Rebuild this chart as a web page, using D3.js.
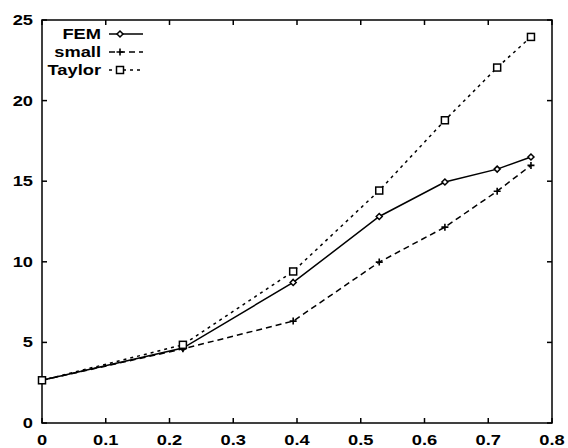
<!DOCTYPE html>
<html>
<head>
<meta charset="utf-8">
<script src="https://cdn.jsdelivr.net/npm/d3@7"></script>
<style>
  body { margin: 0; background: #fff; }
  text { font-family: "Liberation Sans", Arial, sans-serif; font-weight: bold; fill: #000; }
</style>
</head>
<body>
<div id="chart"></div>
<script>
// Data
const xs = [0, 0.221, 0.394, 0.529, 0.632, 0.714, 0.767];
const femValues = [2.65, 4.65, 8.72, 12.81, 14.95, 15.75, 16.5];
const smallValues = [2.65, 4.6, 6.32, 9.98, 12.15, 14.38, 15.98];
const taylorValues = [2.65, 4.85, 9.4, 14.42, 18.78, 22.05, 23.95];
const seriesNames = ["FEM", "small", "Taylor"];
const xTicks = [0, 0.1, 0.2, 0.3, 0.4, 0.5, 0.6, 0.7, 0.8];
const yTicks = [0, 5, 10, 15, 20, 25];

const width = 568, height = 448;
const margin = {top: 20, right: 16, bottom: 25, left: 42};
const stretch = 1.22; // the original font is wider than Liberation Sans

const svg = d3.select("#chart").append("svg")
  .attr("width", width)
  .attr("height", height);

const x = d3.scaleLinear().domain([0, 0.8]).range([margin.left, width - margin.right]);
const y = d3.scaleLinear().domain([0, 25]).range([height - margin.bottom, margin.top]);

// line styles
const styles = {
  FEM: {dash: null, marker: "diamond"},
  small: {dash: "6,4", marker: "plus"},
  Taylor: {dash: "3,4", marker: "square"}
};

function label(g, tx, ty, anchor, str) {
  return g.append("text")
    .attr("transform", `translate(${tx},${ty}) scale(${stretch},1)`)
    .attr("text-anchor", anchor)
    .style("font-size", "15px")
    .text(str);
}

// axes, gnuplot style ticks pointing inward on all four sides
const tickLen = 5;
const axisG = svg.append("g");

axisG.append("rect")
  .attr("x", x(0)).attr("y", y(25))
  .attr("width", x(0.8) - x(0)).attr("height", y(0) - y(25))
  .attr("fill", "none").attr("stroke", "#000").attr("stroke-width", 1.5);

xTicks.forEach(t => {
  axisG.append("line").attr("x1", x(t)).attr("x2", x(t))
    .attr("y1", y(0)).attr("y2", y(0) - tickLen)
    .attr("stroke", "#000").attr("stroke-width", 1.5);
  axisG.append("line").attr("x1", x(t)).attr("x2", x(t))
    .attr("y1", y(25)).attr("y2", y(25) + tickLen)
    .attr("stroke", "#000").attr("stroke-width", 1.5);
  label(axisG, x(t), height - 3, "middle", t === 0 ? "0" : d3.format(".1f")(t));
});

yTicks.forEach(t => {
  axisG.append("line").attr("x1", x(0)).attr("x2", x(0) + tickLen)
    .attr("y1", y(t)).attr("y2", y(t))
    .attr("stroke", "#000").attr("stroke-width", 1.5);
  axisG.append("line").attr("x1", x(0.8)).attr("x2", x(0.8) - tickLen)
    .attr("y1", y(t)).attr("y2", y(t))
    .attr("stroke", "#000").attr("stroke-width", 1.5);
  label(axisG, 33, y(t) + 5, "end", t);
});

// markers
function drawMarker(g, kind, cx, cy) {
  if (kind === "diamond") {
    const s = 3;
    g.append("path")
      .attr("d", `M${cx},${cy - s}L${cx + s},${cy}L${cx},${cy + s}L${cx - s},${cy}Z`)
      .attr("fill", "#fff").attr("stroke", "#000").attr("stroke-width", 1.5);
  } else if (kind === "plus") {
    const s = 3.5;
    g.append("path")
      .attr("d", `M${cx - s},${cy}H${cx + s}M${cx},${cy - s}V${cy + s}`)
      .attr("stroke", "#000").attr("stroke-width", 1.6);
  } else {
    const s = 3.5;
    g.append("rect")
      .attr("x", cx - s).attr("y", cy - s).attr("width", 2 * s).attr("height", 2 * s)
      .attr("fill", "#fff").attr("stroke", "#000").attr("stroke-width", 1.5);
  }
}

const allValues = {FEM: femValues, small: smallValues, Taylor: taylorValues};
const line = d3.line().x(d => x(d[0])).y(d => y(d[1]));

seriesNames.forEach(name => {
  const pts = xs.map((v, i) => [v, allValues[name][i]]);
  const g = svg.append("g");
  g.append("path")
    .datum(pts)
    .attr("d", line)
    .attr("fill", "none")
    .attr("stroke", "#000")
    .attr("stroke-width", 1.5)
    .attr("stroke-dasharray", styles[name].dash);
  pts.forEach(p => drawMarker(g, styles[name].marker, x(p[0]), y(p[1])));
});

// legend
const legend = svg.append("g");
seriesNames.forEach((name, i) => {
  const ly = 34 + i * 18;
  label(legend, 101, ly + 5, "end", name);
  legend.append("line")
    .attr("x1", 109).attr("x2", 143)
    .attr("y1", ly).attr("y2", ly)
    .attr("stroke", "#000").attr("stroke-width", 1.5)
    .attr("stroke-dasharray", styles[name].dash);
  drawMarker(legend, styles[name].marker, 120, ly);
});
</script>
</body>
</html>
